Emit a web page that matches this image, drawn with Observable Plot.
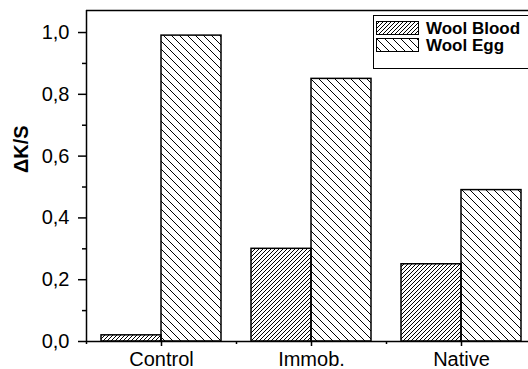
<!DOCTYPE html>
<html><head><meta charset="utf-8">
<script src="https://cdn.jsdelivr.net/npm/d3@7"></script>
<script src="https://cdn.jsdelivr.net/npm/@observablehq/plot@0.6"></script>
<style>
html,body{margin:0;padding:0;overflow:hidden;background:#fff;width:528px;height:369px}
#wrap{position:relative;width:528px;height:369px;overflow:hidden}
#chart{position:absolute;left:0;top:0;width:560px;height:369px}
#chart svg{max-width:none !important;display:block;overflow:hidden}
#legend{position:absolute;left:373px;top:15px;width:175px;height:54px;box-sizing:border-box;border:1.5px solid #000;background:#fff;font-family:"Liberation Sans",Arial,sans-serif;font-weight:bold;font-size:17px;color:#000}
.sw{position:absolute;left:1.5px;width:43px;height:14px}
.lt{position:absolute;left:52px;line-height:17px;white-space:nowrap}
</style></head>
<body>
<div id="wrap">
  <svg width="0" height="0" style="position:absolute;left:0;top:0;overflow:hidden">
    <defs>
      <pattern id="hatchBlood" patternUnits="userSpaceOnUse" width="4" height="4">
        <path d="M0,4L4,0M-1,1L1,-1M3,5L5,3" stroke="#000" stroke-width="1"/>
      </pattern>
      <pattern id="hatchEgg" patternUnits="userSpaceOnUse" width="8" height="8">
        <path d="M0,0L8,8M-1,7L1,9M7,-1L9,1" stroke="#000" stroke-width="1"/>
      </pattern>
    </defs>
  </svg>
  <div id="chart"></div>
  <div id="legend"></div>
</div>
<script>
const categories = ["Control", "Immob.", "Native"];
const series = ["Wool Blood", "Wool Egg"];
const woolBlood = [0.02, 0.30, 0.25];
const woolEgg = [0.99, 0.85, 0.49];
const yTicks = [0, 0.2, 0.4, 0.6, 0.8, 1.0];
const yMinorTicks = [0.1, 0.3, 0.5, 0.7, 0.9];
const xMinorTicks = [-0.5, 0.5, 1.5];
const yLabel = "ΔK/S";
const yMax = 1.0713;

const fills = {"Wool Blood": "url(#hatchBlood)", "Wool Egg": "url(#hatchEgg)"};
const halfBand = 0.4;
const bloodRows = categories.map((c, i) => ({cat: c, i, value: woolBlood[i]}));
const eggRows = categories.map((c, i) => ({cat: c, i, value: woolEgg[i]}));

const chart = Plot.plot({
  width: 560, height: 369,
  marginLeft: 86, marginRight: 24, marginTop: 10, marginBottom: 28,
  x: {domain: [-0.5, 2.5]},
  y: {domain: [0, yMax]},
  style: {fontFamily: '"Liberation Sans", Arial, sans-serif', fontSize: "20px", color: "#000", background: "transparent", maxWidth: "none"},
  marks: [
    Plot.rectY(bloodRows, {x1: d => d.i - halfBand, x2: d => d.i, y: "value", fill: fills["Wool Blood"], stroke: "#000", strokeWidth: 1.5}),
    Plot.rectY(eggRows, {x1: d => d.i, x2: d => d.i + halfBand, y: "value", fill: fills["Wool Egg"], stroke: "#000", strokeWidth: 1.5}),
    Plot.ruleY([0, yMax], {stroke: "#000", strokeWidth: 1.5}),
    Plot.ruleX([-0.5], {stroke: "#000", strokeWidth: 1.5}),
    Plot.axisY(yTicks, {anchor: "left", tickSize: 8, tickPadding: 9, fontSize: 20, tickFormat: d => d.toFixed(1).replace(".", ","), label: null, strokeWidth: 1.5}),
    Plot.axisY(yMinorTicks, {anchor: "left", tickSize: 4, tickFormat: () => "", label: null, strokeWidth: 1.5}),
    Plot.axisX(categories.map((c, i) => i), {anchor: "bottom", tickSize: 5, tickPadding: 5, fontSize: 20, tickFormat: i => categories[i], label: null, strokeWidth: 1.5}),
    Plot.axisX(xMinorTicks, {anchor: "bottom", tickSize: 3, tickFormat: () => "", label: null, strokeWidth: 1.5}),
    Plot.text([yLabel], {frameAnchor: "left", dx: -65, dy: -3, rotate: -90, fontWeight: "bold", fontSize: 20})
  ]
});
chart.style.maxWidth = "none";
document.getElementById("chart").appendChild(chart);

const legend = document.getElementById("legend");
series.forEach((s, k) => {
  const top = 5 + k * 17.3;
  const sw = document.createElementNS("http://www.w3.org/2000/svg", "svg");
  sw.setAttribute("class", "sw");
  sw.setAttribute("width", 43); sw.setAttribute("height", 14);
  sw.style.top = top + "px";
  const r = document.createElementNS("http://www.w3.org/2000/svg", "rect");
  r.setAttribute("x", 0.5); r.setAttribute("y", 0.5);
  r.setAttribute("width", 42); r.setAttribute("height", 13);
  r.setAttribute("fill", fills[s]); r.setAttribute("stroke", "#000"); r.setAttribute("stroke-width", 1);
  sw.appendChild(r);
  legend.appendChild(sw);
  const t = document.createElement("div");
  t.className = "lt";
  t.style.top = (top - 1.5) + "px";
  t.textContent = s;
  legend.appendChild(t);
});
</script>
</body></html>
